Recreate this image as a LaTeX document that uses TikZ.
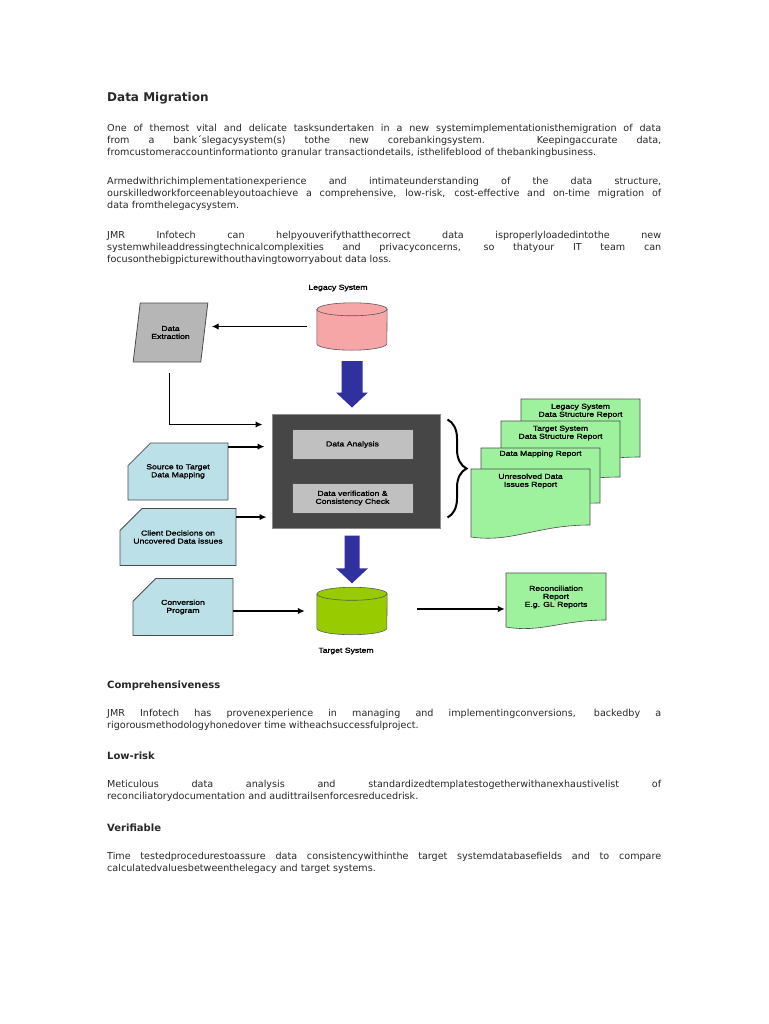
\documentclass[tikz,border=0pt]{standalone}
\usepackage{fontspec}
\setmainfont{DejaVu Sans}
\newfontfamily\diagfont[FakeStretch=1.2,FakeBold=1.5]{Liberation Sans}
\usetikzlibrary{arrows.meta,calc,decorations.pathreplacing,shapes.geometric,shapes.misc}
\definecolor{txtgray}{RGB}{40,40,40}
\definecolor{dbpink}{RGB}{246,166,166}
\definecolor{dbgreen}{RGB}{153,204,0}
\definecolor{cardblue}{RGB}{188,224,232}
\definecolor{repgreen}{RGB}{158,242,158}
\definecolor{boxdark}{RGB}{70,70,70}
\definecolor{boxlight}{RGB}{192,192,192}
\definecolor{fatblue}{RGB}{48,48,158}
\definecolor{extgray}{RGB}{182,182,182}

\newcommand\diagsize{\diagfont\fontsize{7.2}{8}\selectfont}
\newcommand\bodysize{\fontsize{9.6}{12}\selectfont}

% drum shape drawn on an empty slot node
\newcommand\dbdrum[2]{%
  \draw[line width=0.6pt,draw=black!65,fill=#2] ($(#1.north west)+(0,6.5)$) -- ($(#1.south west)+(0,-6.5)$)
    arc[start angle=180,end angle=360,x radius=35pt,y radius=6.5pt]
    -- ($(#1.north east)+(0,6.5)$)
    arc[start angle=0,end angle=180,x radius=35pt,y radius=6.5pt] -- cycle;
  \draw[line width=0.6pt,draw=black!65] ($(#1.north west)+(0,6.5)$)
    arc[start angle=180,end angle=360,x radius=35pt,y radius=6.5pt];}

% report sheet with a wavy foot
\newcommand\repsheet[5]{%
  \draw[line width=0.6pt,draw=black!70,fill=repgreen] (#1,#2) -- (#3,#2) -- (#3,#4)
    .. controls ({#3-0.45*(#3-#1)},#4) and ({#1+0.35*(#3-#1)},{#4+#5+6}) .. (#1,{#4+#5}) -- cycle;}

% fat block arrow pointing down
\newcommand\fatdown[4]{%
  \fill[#4] let \p1=(#1), \p2=(#2) in
    (\x1-#3,\y1) -- (\x1+#3,\y1) -- (\x1+#3,\y2+15pt) -- (\x1+16pt,\y2+15pt)
    -- (\x1,\y2) -- (\x1-16pt,\y2+15pt) -- (\x1-#3,\y2+15pt) -- cycle;}

\begin{document}
\begin{tikzpicture}[x=1pt,y=-1pt,
    para/.style={anchor=north west,inner sep=0,text width=554pt,align=justify,font=\bodysize,text=txtgray,
      execute at begin node={\hyphenpenalty=10000\exhyphenpenalty=10000\hbadness=10000}},
    head/.style={anchor=base west,inner sep=0,text=txtgray,font=\bfseries\fontsize{10}{12}\selectfont},
    tag/.style={inner sep=0,font=\diagsize},
    slot/.style={inner sep=0,minimum width=70pt,minimum height=47pt},
    extract/.style={trapezium,trapezium left angle=75,trapezium right angle=105,trapezium stretches=true,
      minimum width=75pt,minimum height=59pt,fill=extgray,draw=black!70,line width=0.8pt,align=center,font=\diagsize},
    card/.style={chamfered rectangle,chamfered rectangle corners=north west,chamfered rectangle xsep=16pt,
      chamfered rectangle ysep=12pt,minimum width=100pt,minimum height=57pt,fill=cardblue,draw=black!70,
      line width=0.8pt,align=center,font=\diagsize},
    darkbox/.style={draw=black!45,line width=1pt,fill=boxdark,minimum width=168pt,minimum height=114pt},
    innerbox/.style={draw=black!70,line width=0.8pt,fill=boxlight,minimum width=121pt,minimum height=30pt,
      align=center,font=\diagsize},
    sheettext/.style={inner sep=0,align=center,font=\diagsize},
    conn/.style={line width=1.9pt,-{Latex[length=7pt,width=6.5pt]}},
    curly/.style={decorate,decoration={brace,amplitude=19pt},line width=2pt}]
  \fill[white] (0,0) rectangle (768,1024);
  \useasboundingbox (0,0) rectangle (768,1024);

  % page text
  \node[head,font=\bfseries\fontsize{12}{14}\selectfont] (title) at (107,101.5) {Data Migration};
  \node[para] (intro) at (107,123.1) {\strut One of themost vital and delicate tasksundertaken in a new systemimplementationisthemigration of data\linebreak
    from a bank´slegacysystem(s) tothe new corebankingsystem. Keepingaccurate data,\linebreak
    fromcustomeraccountinformationto granular transactiondetails, isthelifeblood of thebankingbusiness.};
  \node[para] (armed) at (107,176.1) {\strut Armedwithrichimplementationexperience and intimateunderstanding of the data structure,\linebreak
    ourskilledworkforceenableyoutoachieve a comprehensive, low-risk, cost-effective and on-time migration of\linebreak
    data fromthelegacysystem.};
  \node[para] (verifytxt) at (107,230.1) {\strut JMR Infotech can helpyouverifythatthecorrect data isproperlyloadedintothe new\linebreak
    systemwhileaddressingtechnicalcomplexities and privacyconcerns, so thatyour IT team can\linebreak
    focusonthebigpicturewithouthavingtoworryabout data loss.};

  % diagram
  \node[slot] (legacy) at (352,326.5) {};
  \dbdrum{legacy}{dbpink}
  \node[tag] (legacylbl) at (338,288) {Legacy System};
  \node[extract] (extraction) at (170.5,332.5) {Data\\Extraction};
  \node[darkbox] (dark) at (356,471) {};
  \node[innerbox] (analysis) at (352.5,444.5) {Data Analysis};
  \node[innerbox] (verification) at (352.5,498) {Data verification \&\\Consistency Check};
  \node[card] (mapping) at (178,471.5) {Source to Target\\Data Mapping};
  \node[card] (decisions) at (178,537) {Client Decisions on\\Uncovered Data issues};
  \node[card] (conversion) at (183,607) {Conversion\\Program};
  \node[slot] (target) at (352,611) {};
  \dbdrum{target}{dbgreen}
  \node[tag] (targetlbl) at (346,651) {Target System};

  \repsheet{521}{399}{640}{457}{8}
  \node[sheettext] (legrep) at (580.5,411) {Legacy System\\Data Structure Report};
  \repsheet{501}{421}{620}{477}{8}
  \node[sheettext] (tgtrep) at (560.5,433) {Target System\\Data Structure Report};
  \repsheet{481}{448}{600}{503}{9}
  \node[sheettext] (maprep) at (540.5,454) {Data Mapping Report};
  \repsheet{471}{469}{590}{525}{12}
  \node[sheettext] (issuerep) at (530.5,481) {Unresolved Data\\Issues Report};
  \repsheet{506}{573}{606}{620}{7}
  \node[sheettext,minimum width=100pt,minimum height=47pt] (recon) at (556,597) {Reconciliation\\Report\\E.g. GL Reports};

  \fatdown{$(legacy.south)+(0,11)$}{$(dark.north)+(0,-6)$}{10.5pt}{fatblue}
  \fatdown{$(dark.south)+(-4,7)$}{$(target.north)+(0,-4)$}{7.5pt}{fatblue}

  \draw[conn] ([xshift=-10pt]legacy.west) -- ($(extraction.east |- legacy.west)+(7,0)$);
  \draw[conn] ($(extraction.south -| extraction.center)+(-1,11)$) |- ($(dark.north west)+(-9,11)$);
  \draw[conn] ($(mapping.north east)+(0,4)$) -- ($(dark.west |- mapping.north east)+(-7,4)$);
  \draw[conn] ($(decisions.north east)+(0,9)$) -- ($(dark.west |- decisions.north east)+(-5,9)$);
  \draw[conn] (conversion.east |- target.west) -- ($(target.west)+(-12,0)$);
  \draw[conn] ($(target.east)+(30,-2)$) -- ($(recon.west |- target.east)+(-1,-2)$);
  \draw[curly] ($(dark.north east)+(7,6)$) -- ($(dark.south east)+(7,-11)$);

  % page text below
  \node[head] (comp) at (107,688.6) {Comprehensiveness};
  \node[para] (comptxt) at (107,708.1) {\strut JMR Infotech has provenexperience in managing and implementingconversions, backedby a\linebreak
    rigorousmethodologyhonedover time witheachsuccessfulproject.};
  \node[head] (lowrisk) at (107,759.6) {Low-risk};
  \node[para] (lowrisktxt) at (107,779.1) {\strut Meticulous data analysis and standardizedtemplatestogetherwithanexhaustivelist of\linebreak
    reconciliatorydocumentation and audittrailsenforcesreducedrisk.};
  \node[head] (verif) at (107,831.6) {Verifiable};
  \node[para] (veriftxt) at (107,851.1) {\strut Time testedprocedurestoassure data consistencywithinthe target systemdatabasefields and to compare\linebreak
    calculatedvaluesbetweenthelegacy and target systems.};
\end{tikzpicture}
\end{document}
